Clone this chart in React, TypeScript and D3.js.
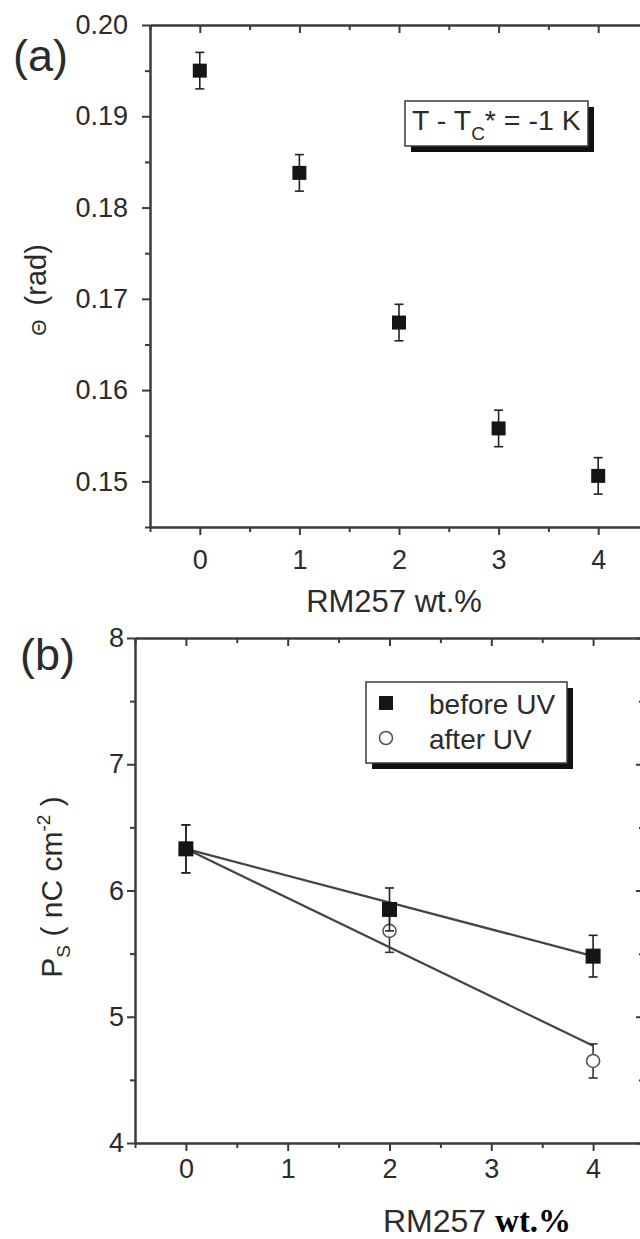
import React, { useEffect, useRef } from 'react';
import * as d3 from 'd3';

// panel (a): tilt angle vs RM257 content
const wtA = [0, 1, 2, 3, 4];
const thetaA = [0.195, 0.1838, 0.1674, 0.1558, 0.1506];
const thetaErrA = [0.002, 0.002, 0.002, 0.002, 0.002];

// panel (b): spontaneous polarization before / after UV
const wtB = [0, 2, 4];
const psBefore = [6.33, 5.85, 5.48];
const psBeforeErr = [0.19, 0.17, 0.165];
const psAfter = [6.33, 5.68, 4.65];
const psAfterErr = [0.19, 0.17, 0.135];
const fitX = [0, 4];
const fitBefore = [6.33, 5.48];
const fitAfter = [6.33, 4.77];

const xTicks = [0, 1, 2, 3, 4];
const xMinor = [-0.5, 0.5, 1.5, 2.5, 3.5, 4.5];
const yTicksA = [0.15, 0.16, 0.17, 0.18, 0.19, 0.2];
const yMinorA = [0.145, 0.155, 0.165, 0.175, 0.185, 0.195];
const yTicksB = [4, 5, 6, 7, 8];
const yMinorB = [4.5, 5.5, 6.5, 7.5];

const FONT = "'Liberation Sans', Arial, sans-serif";
const INK = '#2b2b2b';
const AXIS = '#3a3a3a';

function styleAxis(g, size = 27) {
  g.select('.domain').attr('stroke', AXIS).attr('stroke-width', 2);
  g.selectAll('.tick line').attr('stroke', AXIS).attr('stroke-width', 2);
  g.selectAll('text').attr('font-family', FONT).attr('font-size', size).attr('fill', INK);
}

function frame(svg, x, y, yMajor, yMinor, yFmt, padY, padX) {
  const [x0, x1] = x.range();
  const [y0, y1] = y.range();

  // bottom (outward ticks)
  svg.append('g').attr('transform', `translate(0,${y0})`)
    .call(d3.axisBottom(x).tickValues(xTicks).tickSize(8).tickSizeOuter(0).tickPadding(padX).tickFormat(d3.format('d')))
    .call((g) => styleAxis(g));
  svg.append('g').attr('transform', `translate(0,${y0})`)
    .call(d3.axisBottom(x).tickValues(xMinor).tickSize(5).tickSizeOuter(0).tickFormat(() => ''))
    .call((g) => styleAxis(g));
  // top (inward ticks)
  svg.append('g').attr('transform', `translate(0,${y1})`)
    .call(d3.axisTop(x).tickValues(xTicks).tickSize(-8).tickSizeOuter(0).tickFormat(() => ''))
    .call((g) => styleAxis(g));
  svg.append('g').attr('transform', `translate(0,${y1})`)
    .call(d3.axisTop(x).tickValues(xMinor).tickSize(-5).tickSizeOuter(0).tickFormat(() => ''))
    .call((g) => styleAxis(g));
  // left (outward ticks)
  svg.append('g').attr('transform', `translate(${x0},0)`)
    .call(d3.axisLeft(y).tickValues(yMajor).tickSize(8).tickSizeOuter(0).tickPadding(padY).tickFormat(yFmt))
    .call((g) => styleAxis(g));
  svg.append('g').attr('transform', `translate(${x0},0)`)
    .call(d3.axisLeft(y).tickValues(yMinor).tickSize(5).tickSizeOuter(0).tickFormat(() => ''))
    .call((g) => styleAxis(g));
  // right (inward ticks, mostly cropped off)
  svg.append('g').attr('transform', `translate(${x1},0)`)
    .call(d3.axisRight(y).tickValues(yMajor).tickSize(-8).tickSizeOuter(0).tickFormat(() => ''))
    .call((g) => styleAxis(g));
  svg.append('g').attr('transform', `translate(${x1},0)`)
    .call(d3.axisRight(y).tickValues(yMinor).tickSize(-5).tickSizeOuter(0).tickFormat(() => ''))
    .call((g) => styleAxis(g));
}

function errorBars(svg, x, y, xs, ys, es, color = '#222') {
  const g = svg.append('g').attr('stroke', color).attr('stroke-width', 1.6);
  xs.forEach((xv, i) => {
    const cx = x(xv);
    const top = y(ys[i] + es[i]);
    const bot = y(ys[i] - es[i]);
    g.append('line').attr('x1', cx).attr('x2', cx).attr('y1', top).attr('y2', bot);
    g.append('line').attr('x1', cx - 4.5).attr('x2', cx + 4.5).attr('y1', top).attr('y2', top);
    g.append('line').attr('x1', cx - 4.5).attr('x2', cx + 4.5).attr('y1', bot).attr('y2', bot);
  });
}

function shadowBox(svg, x, y, w, h) {
  svg.append('rect').attr('x', x + 6).attr('y', y + 6).attr('width', w).attr('height', h).attr('fill', '#111');
  svg.append('rect').attr('x', x).attr('y', y).attr('width', w).attr('height', h)
    .attr('fill', '#fff').attr('stroke', AXIS).attr('stroke-width', 1.5);
}

function Chart() {
  const svgRef = useRef(null);

  useEffect(() => {
    const svg = d3.select(svgRef.current);
    svg.selectAll('*').remove();

    // ---------- panel (a)
    const xa = d3.scaleLinear().domain([-0.5, 4.5]).range([150, 648]);
    const ya = d3.scaleLinear().domain([0.145, 0.2]).range([527, 25]);
    frame(svg, xa, ya, yTicksA, yMinorA, d3.format('.2f'), 14, 15);

    errorBars(svg, xa, ya, wtA, thetaA, thetaErrA);
    svg.append('g').selectAll('rect').data(wtA).enter().append('rect')
      .attr('x', (d) => xa(d) - 7)
      .attr('y', (d, i) => ya(thetaA[i]) - 7)
      .attr('width', 14).attr('height', 14)
      .attr('fill', '#151515');

    svg.append('text').attr('x', 13).attr('y', 71).attr('font-family', FONT).attr('font-size', 45)
      .attr('fill', INK).text('(a)');

    svg.append('text').attr('transform', 'translate(46,290) rotate(-90)')
      .attr('text-anchor', 'middle').attr('font-family', FONT).attr('font-size', 29).attr('fill', INK)
      .call((t) => {
        t.append('tspan').attr('font-size', 21).text('Θ');
        t.append('tspan').attr('dx', 6).text(' (rad)');
      });

    svg.append('text').attr('x', xa(2) - 5).attr('y', 612).attr('text-anchor', 'middle')
      .attr('font-family', FONT).attr('font-size', 31).attr('fill', INK).text('RM257 wt.%');

    shadowBox(svg, 405, 101, 183, 45);
    svg.append('text').attr('x', 412).attr('y', 130).attr('font-family', FONT).attr('font-size', 28.5)
      .attr('fill', INK)
      .call((t) => {
        t.append('tspan').text('T - T');
        t.append('tspan').attr('font-size', 19).attr('dy', 10).text('C');
        t.append('tspan').attr('dy', -10).text('* = -1 K');
      });

    // ---------- panel (b)
    const xb = d3.scaleLinear().domain([-0.5, 4.5]).range([135, 644]);
    const yb = d3.scaleLinear().domain([4, 8]).range([1143, 638]);
    frame(svg, xb, yb, yTicksB, yMinorB, d3.format('d'), 3, 8);

    const line = d3.line().x((d) => xb(d[0])).y((d) => yb(d[1]));
    [fitBefore, fitAfter].forEach((fit) => {
      svg.append('path').datum(fitX.map((xv, i) => [xv, fit[i]]))
        .attr('d', line).attr('fill', 'none').attr('stroke', '#444').attr('stroke-width', 2.2);
    });

    errorBars(svg, xb, yb, wtB, psAfter, psAfterErr, '#333');
    svg.append('g').selectAll('circle').data(wtB).enter().append('circle')
      .attr('cx', (d) => xb(d)).attr('cy', (d, i) => yb(psAfter[i])).attr('r', 6.5)
      .attr('fill', '#fff').attr('stroke', '#555').attr('stroke-width', 1.6);

    errorBars(svg, xb, yb, wtB, psBefore, psBeforeErr);
    svg.append('g').selectAll('rect').data(wtB).enter().append('rect')
      .attr('x', (d) => xb(d) - 7.5)
      .attr('y', (d, i) => yb(psBefore[i]) - 7.5)
      .attr('width', 15).attr('height', 15)
      .attr('fill', '#151515');

    svg.append('text').attr('x', 20).attr('y', 670).attr('font-family', FONT).attr('font-size', 45)
      .attr('fill', INK).text('(b)');

    svg.append('text').attr('transform', 'translate(62,887) rotate(-90)')
      .attr('text-anchor', 'middle').attr('font-family', FONT).attr('font-size', 30).attr('fill', INK)
      .call((t) => {
        t.append('tspan').text('P');
        t.append('tspan').attr('font-size', 19).attr('dy', 8).text('S');
        t.append('tspan').attr('dy', -8).text(' ( nC cm');
        t.append('tspan').attr('font-size', 19).attr('dy', -12).text('-2');
        t.append('tspan').attr('dy', 12).text(' )');
      });

    svg.append('text').attr('x', 383).attr('y', 1232).attr('fill', INK)
      .call((t) => {
        t.append('tspan').attr('font-family', FONT).attr('font-size', 32).text('RM257 ');
        t.append('tspan').attr('font-family', "'Liberation Serif', 'Times New Roman', serif")
          .attr('font-weight', 'bold').attr('font-size', 33).attr('fill', '#000').text('wt.%');
      });

    // legend
    shadowBox(svg, 366, 682, 201, 81);
    svg.append('rect').attr('x', 379).attr('y', 696).attr('width', 14).attr('height', 14).attr('fill', '#151515');
    svg.append('circle').attr('cx', 386).attr('cy', 738).attr('r', 6.5)
      .attr('fill', '#fff').attr('stroke', '#555').attr('stroke-width', 1.6);
    svg.append('text').attr('x', 429).attr('y', 714).attr('font-family', FONT).attr('font-size', 28)
      .attr('fill', INK).text('before UV');
    svg.append('text').attr('x', 429).attr('y', 749).attr('font-family', FONT).attr('font-size', 28)
      .attr('fill', INK).text('after UV');
  }, []);

  return <svg ref={svgRef} width={640} height={1239} style={{ display: 'block', background: '#fff' }}></svg>;
}

export default function App() {
  return (
    <div style={{ position: 'absolute', left: 0, top: 0, width: 640, height: 1239, overflow: 'hidden', background: '#fff' }}>
      <Chart />
    </div>
  );
}
